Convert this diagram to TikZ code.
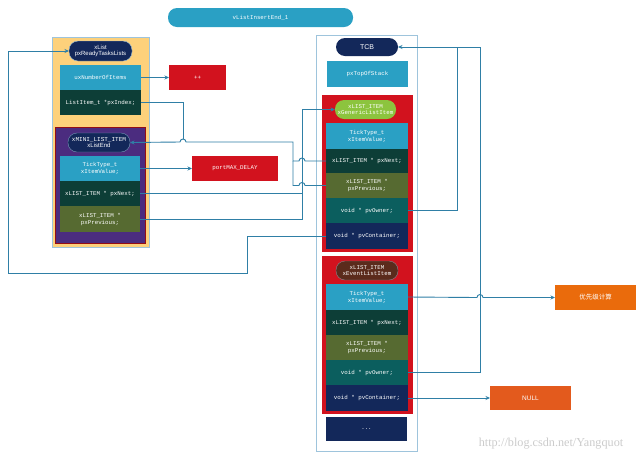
\documentclass[tikz,border=0pt]{standalone}
\usepackage{fontspec}
\setmainfont{Liberation Sans}
\newfontfamily\mono{Liberation Mono}
\newfontfamily\cjk{Noto Sans CJK SC}
\newfontfamily\wmfont{Liberation Serif}
\usetikzlibrary{arrows.meta}
\definecolor{ccyan}{HTML}{2AA0C4}
\definecolor{cdgreen}{HTML}{0D3E37}
\definecolor{colive}{HTML}{566A31}
\definecolor{cteal}{HTML}{0B5E5E}
\definecolor{cnavy}{HTML}{13285A}
\definecolor{cred}{HTML}{D2121E}
\definecolor{corange}{HTML}{EA6B0C}
\definecolor{corange2}{HTML}{E35A1D}
\definecolor{cyellow}{HTML}{FDD17B}
\definecolor{cpurple}{HTML}{4B2C7F}
\definecolor{cgreen}{HTML}{8CC43E}
\definecolor{cbrown}{HTML}{5B2B1C}
\definecolor{wirec}{HTML}{2F7FA6}
\definecolor{cframe}{HTML}{9EC4DC}
\tikzset{
 cell/.style={anchor=north west, inner sep=0pt, outer sep=0pt, text=white,
   font=\mono\fontsize{5.8}{7}\selectfont, align=center,
   minimum width=81pt, minimum height=25pt},
 pill/.style={rounded corners=9pt, inner sep=0pt, outer sep=0pt, text=white, align=center,
   font=\fontsize{6}{6.6}\selectfont},
 wire/.style={draw=wirec, line width=0.9pt},
 arr/.style={wire, -{Stealth[length=4.5pt,width=4pt]}},
}
\begin{document}
\begin{tikzpicture}[x=1pt,y=-1pt]
\useasboundingbox (0,0) rectangle (640,456);
\fill[white] (0,0) rectangle (640,456);

% title
\node[pill, fill=ccyan, minimum width=185pt, minimum height=19pt, font=\mono\fontsize{5.8}{7}\selectfont] (title) at (260.5,17.5) {vListInsertEnd\_1};

% left list
\draw[fill=cyellow, draw=cframe, line width=0.6pt] (52,37) rectangle (149,247);
\node[pill, fill=cnavy, draw=cframe, line width=0.4pt, minimum width=63pt, minimum height=20pt] (xlist) at (100.5,51) {xList\\pxReadyTasksLists};
\node[cell, fill=ccyan] (uxn) at (60,65) {uxNumberOfItems};
\node[cell, fill=cdgreen] (pxidx) at (60,90) {ListItem\_t *pxIndex;};
\draw[fill=cpurple, draw=cred!70!black, line width=0.6pt] (55,127) rectangle (145,243);
\node[pill, fill=cnavy, draw=cframe!70!cnavy, line width=0.4pt, minimum width=62pt, minimum height=19pt] (xle) at (99,142.5) {{\mono xMINI\_LIST\_ITEM}\\xListEnd};
\node[cell, fill=ccyan, minimum width=80pt] (leval) at (60,156) {TickType\_t\\xItemValue;};
\node[cell, fill=cdgreen, minimum width=80pt] (lenext) at (60,181) {xLIST\_ITEM * pxNext;};
\node[cell, fill=colive, minimum width=80pt, minimum height=26pt] (leprev) at (60,206) {xLIST\_ITEM *\\pxPrevious;};

\node[cell, fill=cred, minimum width=57pt] (pp) at (169,65) {++};
\node[cell, fill=cred, minimum width=86pt] (pmd) at (192,156) {portMAX\_DELAY};

% TCB
\draw[fill=white, draw=cframe, line width=0.7pt] (316,35) rectangle (417,451);
\node[pill, fill=cnavy, minimum width=62pt, minimum height=18pt, font=\fontsize{7}{8}\selectfont] (tcb) at (367,47) {TCB};
\node[cell, fill=ccyan, minimum height=26pt] (top) at (327,61) {pxTopOfStack};

\fill[cred] (322,95) rectangle (413,252);
\node[pill, fill=cgreen, minimum width=61pt, minimum height=19pt, font=\mono\fontsize{5.8}{6.6}\selectfont] (gpill) at (365.5,109.5) {xLIST\_ITEM\\xGenericListItem};
\node[cell, fill=ccyan, minimum width=82pt, minimum height=26pt] (gval) at (326,123) {TickType\_t\\xItemValue;};
\node[cell, fill=cdgreen, minimum width=82pt, minimum height=24pt] (gnext) at (326,149) {xLIST\_ITEM * pxNext;};
\node[cell, fill=colive, minimum width=82pt] (gprev) at (326,173) {xLIST\_ITEM *\\pxPrevious;};
\node[cell, fill=cteal, minimum width=82pt] (gown) at (326,198) {void * pvOwner;};
\node[cell, fill=cnavy, minimum width=82pt, minimum height=26pt] (gcont) at (326,223) {void * pvContainer;};

\fill[cred] (322,256) rectangle (413,414);
\node[pill, fill=cbrown, draw=cframe!60!cbrown, line width=0.4pt, minimum width=62pt, minimum height=19pt, font=\mono\fontsize{5.8}{6.6}\selectfont] (epill) at (367,270.5) {xLIST\_ITEM\\xEventListItem};
\node[cell, fill=ccyan, minimum width=82pt, minimum height=26pt] (eval) at (326,284) {TickType\_t\\xItemValue;};
\node[cell, fill=cdgreen, minimum width=82pt] (enext) at (326,310) {xLIST\_ITEM * pxNext;};
\node[cell, fill=colive, minimum width=82pt] (eprev) at (326,335) {xLIST\_ITEM *\\pxPrevious;};
\node[cell, fill=cteal, minimum width=82pt] (eown) at (326,360) {void * pvOwner;};
\node[cell, fill=cnavy, minimum width=82pt, minimum height=26pt] (econt) at (326,385) {void * pvContainer;};
\node[cell, fill=cnavy, minimum height=24pt] (dots) at (326,417) {...};

\node[cell, fill=corange, font=\cjk\fontsize{6.5}{7}\selectfont] (prio) at (555,285) {优先级计算};
\node[cell, fill=corange2, minimum height=24pt, font=\fontsize{6.5}{7}\selectfont] (null) at (490,386) {NULL};

\node[text=gray!40, font=\wmfont\fontsize{12.2}{13}\selectfont, anchor=center] (wm) at (551,444) {http://blog.csdn.net/Yangquot};

% connectors
\draw[arr] (uxn.east) -- (pp.west);
\draw[arr] (leval.east) -- (pmd.west);
\coordinate (ixend) at (183,139);
\draw[wire] (pxidx.east) -| (ixend);

\draw[arr] (gnext.west) -- (305,161) arc[start angle=0,end angle=180,radius=3pt] -- (293,161) -- (293,142)
  -- (186,142) arc[start angle=0,end angle=180,radius=3pt] -- (xle.east);
\draw[wire] (gprev.west) -- (305,185.5) arc[start angle=0,end angle=180,radius=3pt] -- (293,185.5) -- (293,161);

\draw[arr] (lenext.east) -- (302,193.5) -- (302,109.5) -- (gpill.west);
\draw[wire] (leprev.east) -- (302,219) -- (302,193.5);

\draw[arr] (gcont.west) -- (247,236) -- (247,273) -- (8,273) -- (8,51) -- (xlist.west);

\draw[arr] (eown.east) -- (480,372.5) -- (480,47) -- (tcb.east);
\draw[wire] (gown.east) -- (457,210.5) -- (457,47);

\draw[arr] (eval.east) -- (477,297.5) arc[start angle=180,end angle=0,radius=3pt] -- (prio.west);
\draw[arr] (econt.east) -- (null.west);
\end{tikzpicture}
\end{document}
